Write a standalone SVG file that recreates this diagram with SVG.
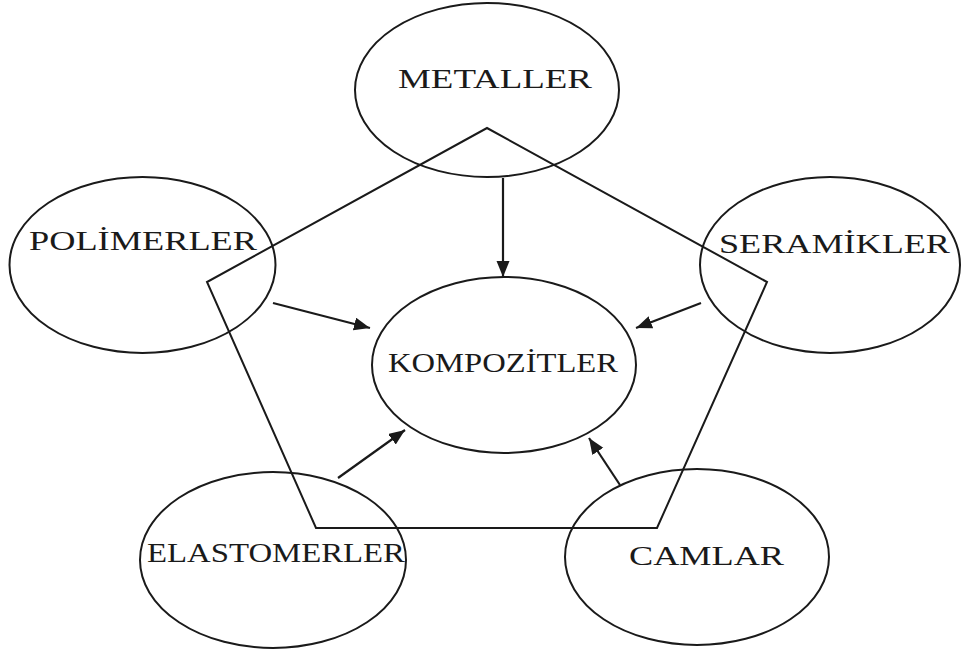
<svg xmlns="http://www.w3.org/2000/svg" width="962" height="657" viewBox="0 0 962 657">
  <style>
    .node ellipse { fill: none; stroke: #1a1a1a; stroke-width: 2; }
    .node text { font-family: "Liberation Serif", "Times New Roman", serif; font-size: 28px; fill: #1a1a1a; }
    .frame { fill: none; stroke: #1a1a1a; stroke-width: 2; stroke-linejoin: miter; }
    .link { stroke: #1a1a1a; stroke-width: 2.2; fill: none; marker-end: url(#head); }
  </style>
  <defs>
    <marker id="head" markerUnits="userSpaceOnUse" markerWidth="18" markerHeight="14" refX="16" refY="6.5" orient="auto">
      <path d="M0,0 L16,6.5 L0,13 Z" fill="#1a1a1a"/>
    </marker>
  </defs>
  <rect width="962" height="657" fill="#ffffff"/>

  <!-- pentagon frame -->
  <polygon class="frame" points="487,128 767,282 657,528 316,528 207,282"/>

  <g id="metaller" class="node">
    <ellipse cx="487" cy="90" rx="132" ry="87"/>
    <text x="398" y="88" textLength="194" lengthAdjust="spacingAndGlyphs">METALLER</text>
  </g>
  <g id="polimerler" class="node">
    <ellipse cx="142.5" cy="265" rx="133" ry="88"/>
    <text x="29" y="250" textLength="228" lengthAdjust="spacingAndGlyphs">POLİMERLER</text>
  </g>
  <g id="seramikler" class="node">
    <ellipse cx="830" cy="265" rx="130" ry="88"/>
    <text x="719" y="253" textLength="231" lengthAdjust="spacingAndGlyphs">SERAMİKLER</text>
  </g>
  <g id="kompozitler" class="node">
    <ellipse cx="504" cy="365" rx="132" ry="88"/>
    <text x="388" y="372" textLength="230" lengthAdjust="spacingAndGlyphs">KOMPOZİTLER</text>
  </g>
  <g id="elastomerler" class="node">
    <ellipse cx="273" cy="560" rx="133" ry="88"/>
    <text x="147" y="562" textLength="258" lengthAdjust="spacingAndGlyphs">ELASTOMERLER</text>
  </g>
  <g id="camlar" class="node">
    <ellipse cx="697" cy="557" rx="132" ry="88"/>
    <text x="629" y="565" textLength="155" lengthAdjust="spacingAndGlyphs">CAMLAR</text>
  </g>

  <g id="connectors">
    <line class="link" x1="503" y1="178" x2="503" y2="277"/>
    <line class="link" x1="273" y1="303" x2="370" y2="328"/>
    <line class="link" x1="701" y1="303" x2="636" y2="328"/>
    <line class="link" x1="338" y1="478" x2="405" y2="430"/>
    <line class="link" x1="620" y1="485" x2="589" y2="438"/>
  </g>
</svg>
